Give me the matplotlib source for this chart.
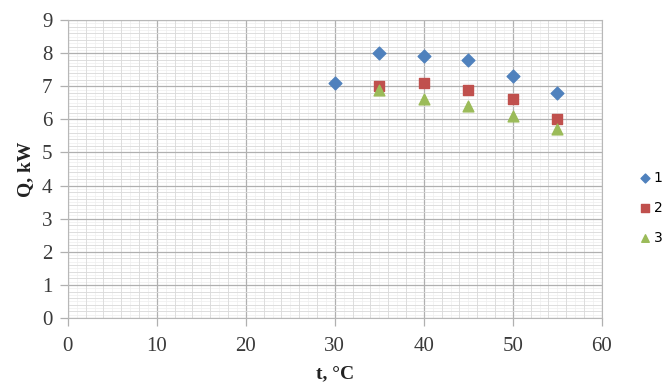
import numpy as np
import matplotlib
matplotlib.use("Agg")
import matplotlib.pyplot as plt
from matplotlib.ticker import MultipleLocator

# data
t = [30, 35, 40, 45, 50, 55]
q1 = [7.1, 8.0, 7.9, 7.8, 7.3, 6.8]
t23 = [35, 40, 45, 50, 55]
q2 = [7.0, 7.1, 6.9, 6.6, 6.0]
q3 = [6.9, 6.6, 6.4, 6.1, 5.7]
labels = ["1", "2", "3"]

blue = "#4F81BD"
red = "#C0504D"
green = "#9BBB59"

fig = plt.figure(figsize=(6.65, 3.85), dpi=100, facecolor="white")
ax = fig.add_axes([0.102, 0.174, 0.803, 0.774])

ax.set_xlim(0, 60)
ax.set_ylim(0, 9)

# graph-paper grid: faint, medium, major
for x in np.arange(0, 60, 1):
    ax.axvline(x, color="#efefef", lw=0.5, zorder=0)
for y in np.arange(0, 9, 0.1):
    ax.axhline(y, color="#efefef", lw=0.5, zorder=0)
ax.xaxis.set_major_locator(MultipleLocator(10))
ax.xaxis.set_minor_locator(MultipleLocator(2))
ax.yaxis.set_major_locator(MultipleLocator(1))
ax.yaxis.set_minor_locator(MultipleLocator(0.2))
ax.grid(which="minor", color="#dadada", lw=0.6, zorder=1)
ax.grid(which="major", color="#b0b0b0", lw=0.9, zorder=1)
ax.set_axisbelow(True)

for s in ax.spines.values():
    s.set_color("#b8b8b8")
    s.set_linewidth(0.8)

ax.tick_params(which="major", length=6, width=0.9, color="#b0b0b0",
               labelsize=15, pad=5, labelcolor="#3a3a3a")
ax.tick_params(axis="x", pad=8)
ax.tick_params(which="minor", length=0)
for lab in ax.get_xticklabels() + ax.get_yticklabels():
    lab.set_family("Liberation Serif")

ax.scatter(t, q1, marker="D", s=42, color=blue, label=labels[0], zorder=3)
ax.scatter(t23, q2, marker="s", s=60, color=red, label=labels[1], zorder=3)
ax.scatter(t23, q3, marker="^", s=60, color=green, label=labels[2], zorder=3)

ax.set_xlabel("t, °C", family="Liberation Serif", fontweight="bold",
              fontsize=14, labelpad=6, color="#222222")
ax.set_ylabel("Q, kW", family="Liberation Serif", fontweight="bold",
              fontsize=14, labelpad=6, color="#222222")

ax.legend(loc="center left", bbox_to_anchor=(1.058, 0.37), frameon=False,
          fontsize=10, handletextpad=0.1, labelspacing=1.15, markerscale=0.7,
          handlelength=1.0, borderaxespad=0)

fig.savefig("out.png", dpi=100, facecolor="white")
